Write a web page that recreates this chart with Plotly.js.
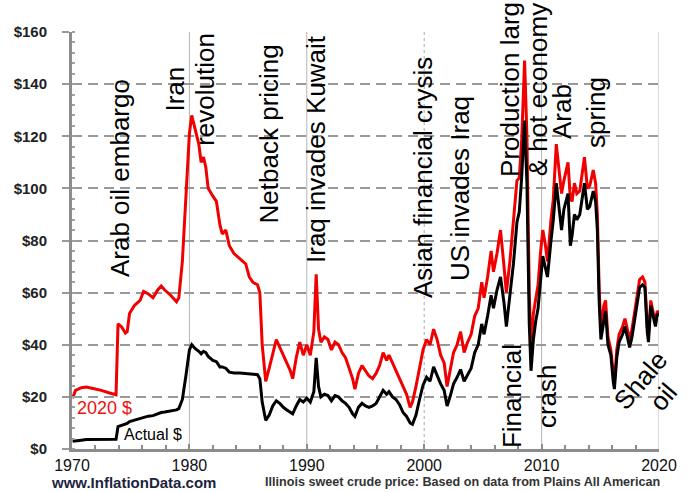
<!DOCTYPE html>
<html>
<head>
<meta charset="utf-8">
<script src="https://cdn.plot.ly/plotly-3.0.1.min.js"></script>
<style>html,body{margin:0;padding:0;background:#fff;}#chart{width:688px;height:492px;}</style>
</head>
<body>
<div id="chart"></div>
<script>
// Time points (decimal years)
var years = [1970.05,1970.3,1970.8,1971.2,1971.8,1972.5,1973.2,1973.75,1973.92,1974.2,1974.55,1974.7,1974.9,1975.3,1975.8,1976.1,1976.5,1976.9,1977.3,1977.6,1977.9,1978.4,1978.9,1979.1,1979.4,1979.7,1980.0,1980.2,1980.5,1980.8,1981.0,1981.2,1981.4,1981.6,1982.0,1982.3,1982.6,1982.8,1983.1,1983.4,1983.8,1984.3,1984.8,1985.1,1985.4,1985.8,1986.0,1986.2,1986.5,1986.8,1987.1,1987.4,1987.7,1988.0,1988.3,1988.6,1988.8,1989.1,1989.4,1989.7,1990.0,1990.3,1990.6,1990.8,1991.0,1991.2,1991.5,1991.8,1992.1,1992.4,1992.7,1993.0,1993.3,1993.6,1993.9,1994.1,1994.4,1994.7,1995.0,1995.3,1995.6,1995.9,1996.2,1996.5,1996.8,1997.0,1997.3,1997.6,1997.9,1998.2,1998.5,1998.8,1999.0,1999.3,1999.6,1999.9,2000.2,2000.5,2000.8,2001.1,2001.4,2001.7,2001.95,2002.2,2002.5,2002.8,2003.1,2003.4,2003.7,2004.0,2004.3,2004.6,2004.9,2005.1,2005.4,2005.7,2005.9,2006.2,2006.5,2006.8,2007.0,2007.3,2007.6,2007.9,2008.1,2008.3,2008.55,2008.75,2008.95,2009.1,2009.3,2009.5,2009.7,2009.9,2010.1,2010.3,2010.5,2010.8,2011.0,2011.25,2011.5,2011.7,2011.9,2012.25,2012.45,2012.6,2012.8,2013.0,2013.25,2013.5,2013.65,2013.9,2014.1,2014.4,2014.6,2014.75,2014.9,2015.05,2015.3,2015.45,2015.65,2015.9,2016.1,2016.2,2016.4,2016.6,2016.9,2017.1,2017.3,2017.5,2017.7,2017.9,2018.1,2018.35,2018.6,2018.8,2019.0,2019.1,2019.3,2019.5,2019.7,2019.85,2020.0];

// Price in 2020 dollars (red)
var real2020 = [19.5,22.5,23.5,23.8,23.2,22.5,21.5,20.8,48,47,44.5,45,52,55,57,60.5,59.5,58,61,62.5,61,59,56.5,58,72,95,121,128,122,117,110,112,108,100,97,95,86,82.5,84,78,75,73,71,66,64,63,60,40,26,31,37,42,39,36,33,30,27,35,41,36,40,36,45,67,46,41,43,42,38,41,40,37,35,31,27,23,29,32,30,28,27,29,32,37,34,36,33,30,27,24,21,16,18,24,31,38,42,40,46,42,36,33,24,30,37,40,45,37,41,44,51,54,64,58,66,76,68,75,84,70,60,72,86,103,104,118,149,120,60,38,52,58,63,75,84,79,72,88,96,117,105,98,103,110,96,95,102,98,99,106,112,100,101,107,102,90,62,46,55,57,43,38,28,25,38,44,47,50,46,42,46,52,59,65,66,64,47,43,57,53,48,53,52];

// Actual (nominal) price (black)
var actual = [3.0,3.2,3.4,3.6,3.6,3.6,3.6,3.7,8.6,9.0,9.5,9.8,10.5,11,11.8,12.2,12.6,12.8,13.5,14,14.2,14.6,15,15.5,19,28,38,40,38.5,37.5,36.5,37.5,37,35.5,34,33.5,31.5,31.5,31,29.5,29.2,29.2,29,29,28.8,28.5,27,18,11,13,16.5,18.5,17.5,16,15,14,13.5,16.5,19,18,19.5,18,22,35,24,20,21,20.5,18.5,20.5,20,18.5,17.5,16,13.5,12.5,16,17.5,16.5,16,16.5,17.5,20,22.5,21,22,20,19,17,14,12.5,10,9.5,13,19,24.5,27.5,26,31.5,28,25,22.5,16.5,20,25,27.5,30.5,26,28.5,31,37,40,48,44,51,59,54,61,66,56,47,58,71,87,91,104,126,102,48,30,42,49,54,64,74,70,66,80,88,102,92,84,92,98,78,82,90,88,90,97,102,92,93,99,95,84,57,42,50,53,40,36,26,23,35,41,44,47,43,39,43,49,56,62,63,62,45,41,55,51,47,52,51];

var yTickVals = [0,20,40,60,80,100,120,140,160];
var xTickVals = [1970,1980,1990,2000,2010,2020];

var events = [
  {text:"Arab oil embargo", x:1974.1, y:104, angle:-90},
  {text:"Iran", x:1978.77, y:138.3, angle:-90},
  {text:"revolution", x:1981.33, y:137.8, angle:-90},
  {text:"Netback pricing", x:1986.78, y:120.7, angle:-90},
  {text:"Iraq invades Kuwait", x:1990.78, y:115.1, angle:-90},
  {text:"Asian financial crysis", x:1999.9, y:104, angle:-90},
  {text:"US invades Iraq", x:2003.05, y:99.8, angle:-90},
  {text:"Production larg", x:2007.31, y:137.8, angle:-90},
  {text:"& hot economy", x:2009.69, y:138, angle:-90},
  {text:"Arab", x:2011.74, y:129.3, angle:-90},
  {text:"spring", x:2014.63, y:129.3, angle:-90},
  {text:"Financial", x:2007.48, y:20.3, angle:-90},
  {text:"crash", x:2010.46, y:20.3, angle:-90},
  {text:"Shale", x:2018.44, y:26.5, angle:-50}
];

var traces = [
  {x: years, y: real2020, type:'scatter', mode:'lines', line:{color:'#f00000', width:3}, hoverinfo:'skip'},
  {x: years, y: actual, type:'scatter', mode:'lines', line:{color:'#000000', width:3}, hoverinfo:'skip'}
];

var annFont = {family:'"Liberation Sans", Arial, sans-serif', size:26, color:'#000'};
var annotations = events.map(function(e){
  return {x:e.x, y:e.y, xref:'x', yref:'y', text:e.text, textangle:e.angle, showarrow:false,
          xanchor:'center', yanchor:'middle', font:annFont};
});
// "oil" sits just past the right edge of the x range, so it is placed in paper coordinates
annotations.push({x:1.0068, y:0.125, xref:'paper', yref:'paper', text:'oil', textangle:-50, showarrow:false,
  xanchor:'center', yanchor:'middle', font:annFont});
annotations.push({x:1972.73, y:15.7, xref:'x', yref:'y', text:'2020 $', showarrow:false,
  xanchor:'center', yanchor:'middle', font:{family:'"Liberation Sans", Arial, sans-serif', size:18, color:'#ee1111'}});
annotations.push({x:1976.94, y:5.4, xref:'x', yref:'y', text:'Actual $', showarrow:false,
  xanchor:'center', yanchor:'middle', font:{family:'"Liberation Sans", Arial, sans-serif', size:16, color:'#000'}});
annotations.push({x:0.1056, y:-0.08, xref:'paper', yref:'paper', text:'www.InflationData.com', showarrow:false,
  xanchor:'center', yanchor:'middle', font:{family:'"Liberation Sans", Arial, sans-serif', size:15, color:'#1c2440', weight:700}});
annotations.push({x:0.666, y:-0.08, xref:'paper', yref:'paper', text:'Illinois sweet crude price: Based on data from Plains All American', showarrow:false,
  xanchor:'center', yanchor:'middle', font:{family:'"Liberation Sans", Arial, sans-serif', size:12.6, color:'#333', weight:700}});

var shapes = [1980,1990,2010,2020].map(function(v){
  return {type:'line', xref:'x', yref:'y', x0:v, x1:v, y0:0, y1:160, layer:'below', line:{color:'#b4b4b4', width:1}};
});
shapes.push({type:'line', xref:'x', yref:'y', x0:2000, x1:2000, y0:0, y1:160, layer:'below', line:{color:'#a8a8a8', width:1, dash:'3px,3px'}});

var layout = {
  width:688, height:492,
  margin:{l:72, r:29, t:32, b:43, pad:0},
  paper_bgcolor:'#ffffff', plot_bgcolor:'#ffffff',
  showlegend:false,
  xaxis:{range:[1970,2020], tickvals:xTickVals, ticktext:xTickVals.map(String),
    showgrid:false, zeroline:false, showline:true, linecolor:'#8c8c8c', linewidth:3,
    ticks:'inside', ticklen:5, tickcolor:'#8c8c8c', tickwidth:2,
    minor:{dtick:2, tick0:1970, ticks:'inside', ticklen:4, tickcolor:'#8c8c8c', tickwidth:2, showgrid:false},
    tickfont:{family:'"Liberation Sans", Arial, sans-serif', size:16, color:'#111'}, ticklabelstandoff:0},
  yaxis:{range:[0,160], tickvals:yTickVals, ticktext:yTickVals.map(function(v){return '$'+v;}),
    showgrid:true, gridcolor:'#999999', gridwidth:2, griddash:'10px,6px',
    zeroline:false, showline:true, linecolor:'#8c8c8c', linewidth:3,
    ticks:'outside', ticklen:7, tickcolor:'#999999', tickwidth:2,
    minor:{dtick:4, ticks:'inside', ticklen:3, tickcolor:'#a0a0a0', tickwidth:2, showgrid:false},
    tickfont:{family:'"Liberation Sans", Arial, sans-serif', size:15, color:'#222', weight:700}, ticklabelstandoff:12},
  annotations:annotations,
  shapes:shapes
};

Plotly.newPlot('chart', traces, layout, {staticPlot:true, displayModeBar:false});
</script>
</body>
</html>
